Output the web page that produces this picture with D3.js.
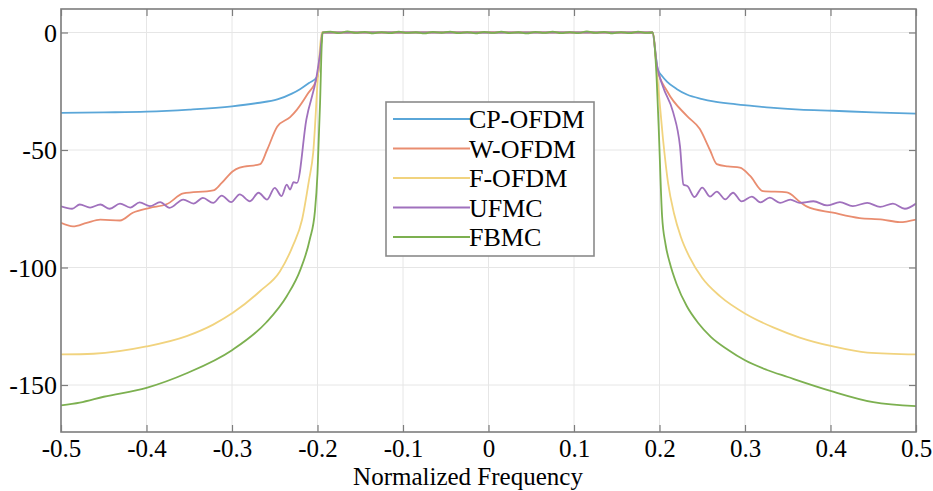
<!DOCTYPE html>
<html>
<head>
<meta charset="utf-8">
<script src="https://cdn.jsdelivr.net/npm/d3@7"></script>
<style>
  html, body { margin: 0; padding: 0; background: #fff; }
  svg { display: block; font-family: "Liberation Serif", "Times New Roman", serif; }
</style>
</head>
<body>
<svg id="chart" width="933" height="491"></svg>
<script>
// values: [normalized frequency, PSD in dB]
const seriesNames = ["CP-OFDM", "W-OFDM", "F-OFDM", "UFMC", "FBMC"];
const seriesColors = ["#5aa6d8", "#e98d70", "#f1d37e", "#a071bd", "#7cb050"];

const xTicks = [-0.5, -0.4, -0.3, -0.2, -0.1, 0, 0.1, 0.2, 0.3, 0.4, 0.5];
const yTicks = [0, -50, -100, -150];

const cpOfdm = [
  [-0.5, -34.2], [-0.45, -34], [-0.4, -33.7], [-0.35, -32.8], [-0.3, -31.4], [-0.27, -30],
  [-0.247, -28.5], [-0.23, -26], [-0.22, -24], [-0.21, -21.5], [-0.2, -18.7], [-0.197, -10],
  [-0.194, 0], [-0.1, 0.1], [0, -0.1], [0.1, 0.1], [0.192, 0], [0.195, -8], [0.198, -15.7],
  [0.203, -18.5], [0.209, -21], [0.22, -24], [0.232, -26.4], [0.25, -28.3], [0.263, -29.3],
  [0.28, -30.2], [0.302, -31], [0.33, -32], [0.364, -32.8], [0.403, -33.3], [0.45, -34], [0.5, -34.5]
];

const wOfdm = [
  [-0.5, -81], [-0.486, -82.5], [-0.47, -81], [-0.454, -79.6], [-0.431, -80], [-0.416, -76.7],
  [-0.396, -74.6], [-0.376, -73], [-0.357, -68.5], [-0.322, -67.2], [-0.312, -64], [-0.299, -59],
  [-0.291, -57.5], [-0.267, -56], [-0.259, -50], [-0.247, -40], [-0.232, -36], [-0.224, -32.8],
  [-0.212, -26.4], [-0.2, -18.7], [-0.197, -10], [-0.194, 0], [-0.1, 0], [0, 0.1], [0.1, 0],
  [0.192, 0], [0.197, -15], [0.209, -25], [0.232, -35.5], [0.247, -41], [0.259, -50], [0.267, -56],
  [0.28, -57], [0.294, -57.5], [0.306, -61], [0.321, -67.5], [0.349, -68], [0.364, -72], [0.372, -74],
  [0.403, -76.7], [0.434, -79], [0.461, -79.6], [0.481, -80.7], [0.5, -79.6]
];

const fOfdm = [
  [-0.5, -137], [-0.462, -136.7], [-0.4, -133.6], [-0.353, -129.2], [-0.322, -124.3], [-0.299, -119.3],
  [-0.267, -110], [-0.244, -101.7], [-0.229, -90.9], [-0.218, -79.6], [-0.21, -63], [-0.205, -51],
  [-0.199, -16], [-0.195, 0], [-0.1, 0], [0, 0], [0.1, 0], [0.192, 0], [0.198, -21], [0.204, -45],
  [0.21, -64], [0.217, -77], [0.225, -87], [0.235, -95.5], [0.25, -104.5], [0.271, -112.3], [0.302, -120],
  [0.333, -125.5], [0.364, -129.8], [0.403, -133.6], [0.443, -136.2], [0.5, -137]
];

const ufmc = [
  [-0.5, -74], [-0.487, -75], [-0.478, -73.2], [-0.466, -74.5], [-0.454, -73.2], [-0.443, -75],
  [-0.431, -72.8], [-0.419, -74.5], [-0.408, -72.3], [-0.396, -73.9], [-0.384, -72.2], [-0.373, -74.6],
  [-0.357, -71.1], [-0.345, -72.8], [-0.334, -70.4], [-0.322, -72.5], [-0.312, -69.4], [-0.301, -72.2],
  [-0.291, -68.9], [-0.279, -71.8], [-0.269, -68.2], [-0.259, -71.1], [-0.25, -66.1], [-0.242, -69.6],
  [-0.236, -64.7], [-0.232, -66.8], [-0.228, -63.7], [-0.224, -64], [-0.213, -37], [-0.201, -18.6],
  [-0.197, -9], [-0.194, 0], [-0.1, 0], [0, 0], [0.1, 0], [0.192, 0], [0.197, -14], [0.204, -23],
  [0.216, -34], [0.224, -48.5], [0.228, -64.7], [0.233, -65.5], [0.241, -70], [0.25, -66],
  [0.259, -69.8], [0.267, -67.7], [0.277, -71], [0.286, -68.2], [0.296, -71.9], [0.308, -69.8],
  [0.318, -72.3], [0.329, -70.3], [0.341, -72.5], [0.353, -71.1], [0.364, -72.5], [0.38, -71.8],
  [0.396, -73.6], [0.411, -72.2], [0.426, -73.9], [0.443, -72.5], [0.458, -74.2], [0.473, -72.8],
  [0.487, -75], [0.5, -72.8]
];

const fbmc = [
  [-0.5, -158.7], [-0.478, -157.5], [-0.45, -155], [-0.4, -151.2], [-0.353, -145], [-0.3, -135.2],
  [-0.26, -123.4], [-0.236, -112.2], [-0.22, -100.9], [-0.209, -88], [-0.203, -76], [-0.2, -60],
  [-0.197, -30], [-0.195, -5], [-0.194, 0], [-0.185, 0.4], [-0.175, -0.3], [-0.165, 0.5], [-0.155, -0.2],
  [-0.145, 0.3], [-0.135, -0.4], [-0.125, 0.2], [-0.115, -0.3], [-0.105, 0.4], [-0.095, -0.2],
  [-0.085, 0.1], [-0.075, -0.4], [-0.065, 0.3], [-0.055, -0.1], [-0.045, 0.4], [-0.035, -0.3],
  [-0.025, 0.2], [-0.015, -0.4], [-0.005, 0.3], [0.005, -0.2], [0.015, 0.4], [0.025, -0.3],
  [0.035, 0.1], [0.045, -0.4], [0.055, 0.3], [0.065, -0.2], [0.075, 0.4], [0.085, -0.3], [0.095, 0.2],
  [0.105, -0.3], [0.115, 0.5], [0.125, -0.2], [0.135, 0.3], [0.145, -0.4], [0.155, 0.2], [0.165, -0.3],
  [0.175, 0.4], [0.185, -0.2], [0.192, 0], [0.196, -15], [0.199, -40], [0.203, -78], [0.207, -90],
  [0.212, -98], [0.22, -107], [0.232, -116.5], [0.245, -123.5], [0.26, -129.5], [0.28, -135],
  [0.3, -139.5], [0.325, -143.5], [0.35, -146.6], [0.4, -152.5], [0.45, -157.3], [0.5, -159]
];

const allSeries = [cpOfdm, wOfdm, fOfdm, ufmc, fbmc];

const svg = d3.select("#chart");
const margin = { top: 9, right: 17, bottom: 59, left: 61 };
const width = +svg.attr("width");
const height = +svg.attr("height");

const x = d3.scaleLinear().domain([-0.5, 0.5]).range([margin.left, width - margin.right]);
const y = d3.scaleLinear().domain([-170, 10]).range([height - margin.bottom, margin.top]);

// grid
const grid = svg.append("g").attr("stroke", "#e6e6e6").attr("stroke-width", 1);
grid.selectAll(".gx").data(xTicks).enter().append("line")
  .attr("x1", d => x(d)).attr("x2", d => x(d))
  .attr("y1", y.range()[1]).attr("y2", y.range()[0]);
grid.selectAll(".gy").data(yTicks).enter().append("line")
  .attr("x1", x.range()[0]).attr("x2", x.range()[1])
  .attr("y1", d => y(d)).attr("y2", d => y(d));

// curves
svg.append("clipPath").attr("id", "plotClip").append("rect")
  .attr("x", x.range()[0]).attr("y", y.range()[1])
  .attr("width", x.range()[1] - x.range()[0]).attr("height", y.range()[0] - y.range()[1]);

const line = d3.line()
  .x(d => x(d[0]))
  .y(d => y(d[1]))
  .curve(d3.curveMonotoneX);

svg.append("g").attr("clip-path", "url(#plotClip)")
  .selectAll("path")
  .data(allSeries)
  .enter()
  .append("path")
  .attr("d", line)
  .attr("fill", "none")
  .attr("stroke", (d, i) => seriesColors[i])
  .attr("stroke-width", 1.8)
  .attr("stroke-linejoin", "round");

// axes, MATLAB style box with inward ticks
const tickCol = "#7d7d7d";
function styleAxis(g) {
  g.select(".domain").remove();
  g.selectAll(".tick line").attr("stroke", tickCol).attr("stroke-width", 1.2);
  g.selectAll("text").attr("fill", "#000").attr("font-size", 26)
    .attr("font-family", "'Liberation Serif', 'Times New Roman', serif");
}

svg.append("g")
  .attr("transform", `translate(0,${y.range()[0]})`)
  .call(d3.axisBottom(x).tickValues(xTicks).tickSize(-7).tickFormat(d => String(d)))
  .call(styleAxis)
  .call(g => g.selectAll("text").attr("y", 25).attr("dy", null).attr("font-size", 25));

svg.append("g")
  .attr("transform", `translate(0,${y.range()[1]})`)
  .call(d3.axisTop(x).tickValues(xTicks).tickSize(-7).tickFormat(""))
  .call(styleAxis);

svg.append("g")
  .attr("transform", `translate(${x.range()[0]},0)`)
  .call(d3.axisLeft(y).tickValues(yTicks).tickSize(-7).tickPadding(4).tickFormat(d => String(d)))
  .call(styleAxis)
  .call(g => g.selectAll("text").attr("dy", "0.34em"));

svg.append("g")
  .attr("transform", `translate(${x.range()[1]},0)`)
  .call(d3.axisRight(y).tickValues(yTicks).tickSize(-7).tickFormat(""))
  .call(styleAxis);

svg.append("rect")
  .attr("x", x.range()[0]).attr("y", y.range()[1])
  .attr("width", x.range()[1] - x.range()[0]).attr("height", y.range()[0] - y.range()[1])
  .attr("fill", "none").attr("stroke", tickCol).attr("stroke-width", 1.6);

svg.append("text")
  .attr("x", 468).attr("y", 485)
  .attr("text-anchor", "middle")
  .attr("font-size", 25)
  .text("Normalized Frequency");

// legend
const lg = svg.append("g").attr("transform", "translate(386,102)");
lg.append("rect")
  .attr("width", 208).attr("height", 154)
  .attr("fill", "#fff").attr("stroke", "#8a8a8a").attr("stroke-width", 1.6);
const rows = lg.selectAll(".row").data(seriesNames).enter().append("g")
  .attr("transform", (d, i) => `translate(0,${17 + i * 29.5})`);
rows.append("line")
  .attr("x1", 7).attr("x2", 84)
  .attr("stroke", (d, i) => seriesColors[i])
  .attr("stroke-width", 1.8);
rows.append("text")
  .attr("x", 83).attr("y", 9)
  .attr("font-size", 26)
  .text(d => d);
</script>
</body>
</html>
